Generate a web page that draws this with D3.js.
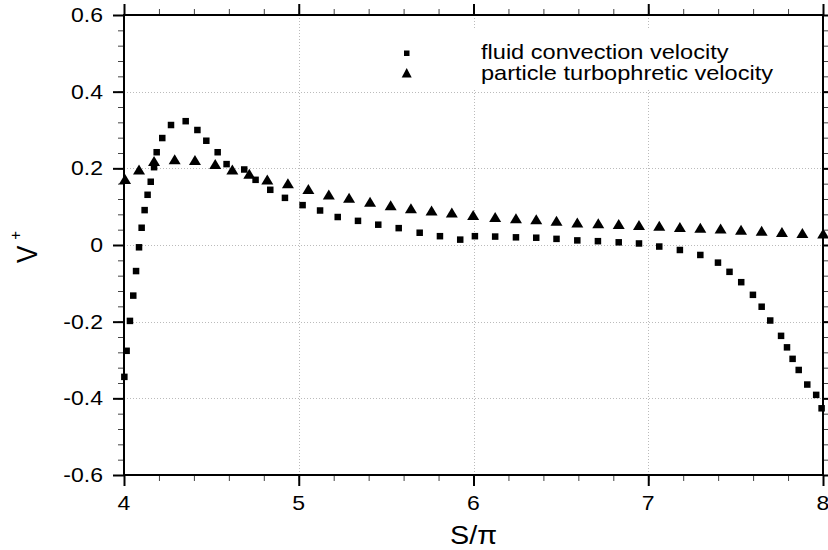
<!DOCTYPE html>
<html>
<head>
<meta charset="utf-8">
<script src="https://cdn.jsdelivr.net/npm/d3@7"></script>
<style>
  html, body { margin: 0; padding: 0; background: #fff; }
  svg { display: block; }
  text { font-family: "Liberation Sans", Arial, sans-serif; fill: #000; }
</style>
</head>
<body>
<svg id="chart" width="828" height="550"></svg>
<script>
// ---- data ----
const fluidX = [4.002,4.015,4.034,4.053,4.069,4.086,4.101,4.118,4.135,4.153,4.172,4.187,4.219,4.269,4.353,4.420,4.471,4.536,4.587,4.688,4.753,4.837,4.921,5.022,5.122,5.223,5.339,5.455,5.572,5.692,5.808,5.924,6.008,6.124,6.243,6.359,6.475,6.594,6.712,6.831,6.947,7.063,7.181,7.298,7.399,7.465,7.532,7.599,7.649,7.698,7.760,7.794,7.826,7.861,7.910,7.961,7.992];
const fluidV = [-0.344,-0.276,-0.198,-0.132,-0.068,-0.006,0.045,0.091,0.131,0.165,0.203,0.242,0.279,0.313,0.323,0.300,0.272,0.242,0.211,0.197,0.170,0.144,0.123,0.104,0.090,0.073,0.063,0.053,0.044,0.032,0.023,0.014,0.023,0.022,0.020,0.019,0.016,0.012,0.010,0.007,0.004,-0.004,-0.013,-0.026,-0.046,-0.070,-0.097,-0.130,-0.161,-0.197,-0.237,-0.267,-0.297,-0.326,-0.364,-0.391,-0.426];
const partX = [4.006,4.086,4.172,4.290,4.406,4.522,4.620,4.717,4.820,4.938,5.055,5.172,5.288,5.408,5.526,5.642,5.760,5.876,5.998,6.124,6.243,6.359,6.475,6.594,6.714,6.831,6.947,7.063,7.181,7.298,7.414,7.531,7.649,7.765,7.882,8.001];
const partV = [0.172,0.197,0.219,0.224,0.222,0.211,0.197,0.186,0.171,0.161,0.146,0.132,0.123,0.113,0.104,0.096,0.090,0.085,0.078,0.073,0.070,0.067,0.063,0.059,0.057,0.055,0.052,0.050,0.047,0.045,0.043,0.040,0.037,0.034,0.031,0.030];
const xTicks = [4, 5, 6, 7, 8];
const xTickLabels = ["4", "5", "6", "7", "8"];
const yTicks = [-0.6, -0.4, -0.2, 0, 0.2, 0.4, 0.6];
const yTickLabels = ["-0.6", "-0.4", "-0.2", "0", "0.2", "0.4", "0.6"];
const seriesNames = ["fluid convection velocity", "particle turbophretic velocity"];
const xTitle = "S/\u03C0";
const yTitle = "V";
const yTitleSup = "+";

// ---- layout ----
const svg = d3.select("#chart");
const L = 124, R = 823, T = 15, B = 475;
const x = d3.scaleLinear().domain([4, 8]).range([L, R]);
const y = d3.scaleLinear().domain([-0.6, 0.6]).range([B, T]);
const SX = 1.15; // horizontal stretch of text
const xMinor = d3.range(4, 8.0001, 0.2).map(v => +v.toFixed(2));
const yMinor = d3.range(-0.6, 0.6001, 0.04).map(v => +v.toFixed(2));

// grid
const grid = svg.append("g").attr("stroke", "#bbb").attr("stroke-width", 1).attr("stroke-dasharray", "1,2");
grid.selectAll("line.gx").data(xTicks.slice(1, -1)).join("line")
  .attr("x1", d => Math.round(x(d)) + 0.5).attr("x2", d => Math.round(x(d)) + 0.5)
  .attr("y1", T).attr("y2", B);
grid.selectAll("line.gy").data(yTicks.slice(1, -1)).join("line")
  .attr("y1", d => Math.round(y(d)) + 0.5).attr("y2", d => Math.round(y(d)) + 0.5)
  .attr("x1", L).attr("x2", R);

// legend background
svg.append("rect").attr("x", 385).attr("y", 28).attr("width", 410).attr("height", 62).attr("fill", "#fff");

// axes (minor and major ticks on all four sides, outside)
function addAxis(axisFn, scale, tvals, size, transform, width, color) {
  const g = svg.append("g").attr("transform", transform)
    .call(axisFn(scale).tickValues(tvals).tickSize(size).tickFormat(""));
  g.select(".domain").remove();
  g.selectAll(".tick line").attr("stroke", color).attr("stroke-width", width);
  return g;
}
addAxis(d3.axisBottom, x, xMinor, 6, `translate(0,${B})`, 1, "#444");
addAxis(d3.axisTop, x, xMinor, 6, `translate(0,${T})`, 1, "#444");
addAxis(d3.axisLeft, y, yMinor, 6, `translate(${L},0)`, 1, "#444");
addAxis(d3.axisRight, y, yMinor, 6, `translate(${R},0)`, 1, "#444");
addAxis(d3.axisBottom, x, xTicks, 11, `translate(0,${B})`, 2, "#000");
addAxis(d3.axisTop, x, xTicks, 11, `translate(0,${T})`, 2, "#000");
addAxis(d3.axisLeft, y, yTicks, 11, `translate(${L},0)`, 2, "#000");
addAxis(d3.axisRight, y, yTicks, 11, `translate(${R},0)`, 2, "#000");

// frame
svg.append("rect").attr("x", L).attr("y", T).attr("width", R - L).attr("height", B - T)
  .attr("fill", "none").attr("stroke", "#000").attr("stroke-width", 2);

function stext(px, py, txt, anchor, size) {
  return svg.append("text")
    .attr("transform", `translate(${px},${py}) scale(${SX},1)`)
    .attr("text-anchor", anchor).attr("font-size", size).text(txt);
}

// tick labels
yTicks.forEach((v, i) => stext(103, y(v) + 7, yTickLabels[i], "end", 20));
xTicks.forEach((v, i) => stext(x(v), 510, xTickLabels[i], "middle", 20));

// axis titles
stext((L + R) / 2, 544, xTitle, "middle", 25);
const yt = svg.append("text")
  .attr("transform", `translate(37,${y(0) + 18}) scale(${SX},1) rotate(-90)`)
  .attr("font-size", 26);
yt.append("tspan").text(yTitle);
yt.append("tspan").attr("font-size", 15).attr("dx", 6).attr("dy", -14).text(yTitleSup);

// markers: fluid (squares)
const sq = 6.5;
svg.append("g").selectAll("rect").data(fluidX.map((d, i) => [d, fluidV[i]])).join("rect")
  .attr("x", d => x(d[0]) - sq / 2).attr("y", d => y(d[1]) - sq / 2)
  .attr("width", sq).attr("height", sq).attr("fill", "#000");

// markers: particle (triangles)
const tw = 6, th = 5;
svg.append("g").selectAll("path").data(partX.map((d, i) => [d, partV[i]])).join("path")
  .attr("d", d => {
    const cx = x(d[0]), cy = y(d[1]);
    return `M${cx},${cy - th}L${cx + tw},${cy + th}L${cx - tw},${cy + th}Z`;
  })
  .attr("fill", "#000");

// legend
svg.append("rect").attr("x", 404).attr("y", 50.5).attr("width", 5.5).attr("height", 5.5).attr("fill", "#000");
svg.append("path").attr("d", "M406.7,68L411.7,77.5L401.7,77.5Z").attr("fill", "#000");
stext(481, 59, seriesNames[0], "start", 20.5);
stext(481, 80, seriesNames[1], "start", 20.5);
</script>
</body>
</html>
